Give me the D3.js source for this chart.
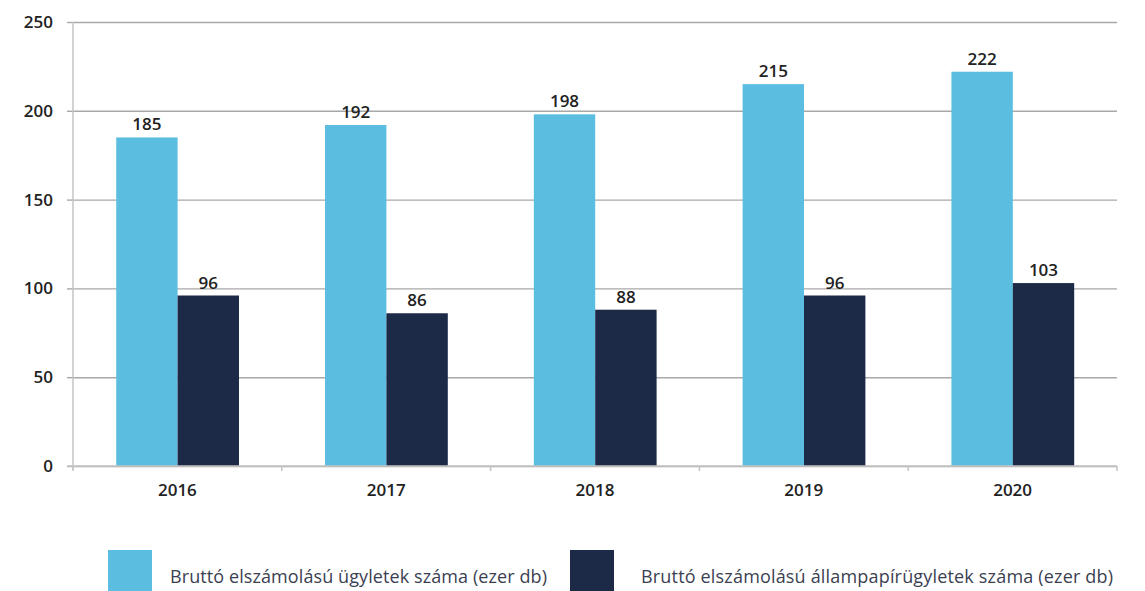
<!DOCTYPE html>
<html><head><meta charset="utf-8">
<script src="https://cdn.jsdelivr.net/npm/d3@7"></script>
<style>body{margin:0;background:#fff;} svg{display:block;}</style>
</head><body>
<svg id="c" width="1145" height="591"></svg>
<script>
const years = ["2016","2017","2018","2019","2020"];
const seriesNames = ["Bruttó elszámolású ügyletek száma (ezer db)","Bruttó elszámolású állampapírügyletek száma (ezer db)"];
const grossTrades = [185,192,198,215,222];
const govBondTrades = [96,86,88,96,103];
const yTicks = [0,50,100,150,200,250];
const colors = ["#5bbddf","#1c2947"];

const svg = d3.select("#c");
const m = {l:73, r:1117, t:22, b:466};
const x = d3.scaleBand().domain(years).range([m.l,m.r]).paddingInner(0).paddingOuter(0);
const bw = x.bandwidth();
const inner = d3.scaleBand().domain([0,1]).range([0.207*bw, 0.795*bw]).padding(0);
const y = d3.scaleLinear().domain([0,250]).range([m.b,m.t]);

const font = "'Open Sans', sans-serif";
// gridlines
const g = svg.append("g").attr("transform",`translate(${m.l},0)`)
  .call(d3.axisLeft(y).tickValues(yTicks).tickSize(-(m.r-m.l)).tickSizeOuter(0).tickPadding(20));
g.select(".domain").remove();
g.selectAll(".tick line").attr("stroke","#a8a8a8").attr("stroke-width",1.4);
g.selectAll(".tick text").attr("font-family",font).attr("font-size",17).attr("font-weight",600).attr("fill","#222");
// y tick stubs
g.selectAll(".tick").append("line").attr("x1",-6).attr("x2",0).attr("stroke","#a8a8a8").attr("stroke-width",1.4);
// y axis line
svg.append("line").attr("x1",m.l).attr("x2",m.l).attr("y1",m.t).attr("y2",m.b+4).attr("stroke","#c4c4c4").attr("stroke-width",1.5);

const data = years.map((yr,i)=>({yr, vals:[grossTrades[i],govBondTrades[i]]}));
const grp = svg.append("g").selectAll("g").data(data).join("g").attr("transform",d=>`translate(${x(d.yr)},0)`);
grp.selectAll("rect").data(d=>d.vals.map((v,k)=>({v,k}))).join("rect")
  .attr("x",d=>inner(d.k)).attr("width",inner.bandwidth())
  .attr("y",d=>y(d.v)).attr("height",d=>m.b-y(d.v)).attr("fill",d=>colors[d.k]);
grp.selectAll("text").data(d=>d.vals.map((v,k)=>({v,k}))).join("text")
  .attr("x",d=>inner(d.k)+inner.bandwidth()/2).attr("y",d=>y(d.v)-7)
  .attr("text-anchor","middle").attr("font-family",font).attr("font-size",17).attr("font-weight",600).attr("fill","#222")
  .text(d=>d.v);

// x axis
const xa = svg.append("g").attr("transform",`translate(0,${m.b})`)
  .call(d3.axisBottom(x).tickSize(0).tickPadding(18));
xa.select(".domain").remove();
xa.selectAll(".tick text").attr("font-family",font).attr("font-size",17).attr("font-weight",600).attr("fill","#222");
svg.append("line").attr("x1",m.l-6).attr("x2",m.r).attr("y1",m.b).attr("y2",m.b).attr("stroke","#c4c4c4").attr("stroke-width",1.5);
const bounds = years.map(d=>x(d)).concat([m.r]);
svg.append("g").selectAll("line").data(bounds).join("line")
  .attr("x1",d=>d).attr("x2",d=>d).attr("y1",m.b).attr("y2",m.b+5).attr("stroke","#c4c4c4").attr("stroke-width",1.5);

// legend
const leg = [{x:108, tx:170, w:377},{x:570, tx:641, w:472}];
const lg = svg.append("g").selectAll("g").data(seriesNames).join("g");
lg.append("rect").attr("x",(d,i)=>leg[i].x).attr("y",550).attr("width",44).attr("height",41).attr("fill",(d,i)=>colors[i]);
lg.append("text").attr("x",(d,i)=>leg[i].tx).attr("y",583).attr("font-family",font).attr("font-size",18).attr("fill","#3b3f52")
  .attr("textLength",(d,i)=>leg[i].w).attr("lengthAdjust","spacing").text(d=>d);
</script>
</body></html>
